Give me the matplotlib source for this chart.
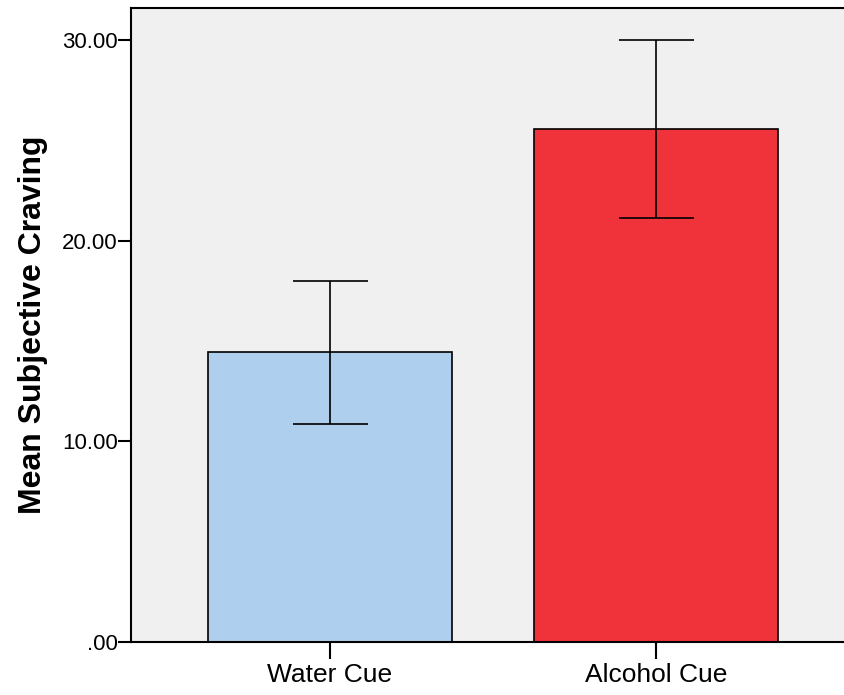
import matplotlib
matplotlib.use("Agg")
import matplotlib.pyplot as plt
import numpy as np

categories = ["Water Cue", "Alcohol Cue"]
means = [14.45, 25.56]
ci_low = [10.86, 21.13]
ci_high = [17.99, 30.0]
colors = ["#AED0EE", "#F0323A"]
yticks = [0, 10, 20, 30]
ytick_labels = [".00", "10.00", "20.00", "30.00"]

plt.rcParams['font.family'] = ['Liberation Sans', 'DejaVu Sans']

fig = plt.figure(figsize=(8.45, 6.95), dpi=100)
ax = fig.add_axes([0.1547, 0.0763, 0.8453, 0.9122])
ax.set_facecolor("#F0F0F0")

x = np.arange(len(categories))
ax.bar(x, means, width=0.75, color=colors, edgecolor="black", linewidth=1.2, zorder=2)
yerr = [np.array(means) - np.array(ci_low), np.array(ci_high) - np.array(means)]
ax.errorbar(x, means, yerr=yerr, fmt="none", ecolor="black", elinewidth=1.2,
            capsize=27, capthick=1.2, zorder=3)

ax.set_xlim(-0.612, 1.581)
ax.set_ylim(0, 31.59)
ax.set_xticks(x)
ax.set_xticklabels(categories, fontsize=19)
ax.set_yticks(yticks)
ax.set_yticklabels(ytick_labels, fontsize=16)
ax.tick_params(axis='x', length=12, width=1.5, pad=3)
ax.tick_params(axis='y', length=9.5, width=1.5, pad=0)
ax.set_ylabel("Mean Subjective Craving", fontsize=23, fontweight="bold", labelpad=10)

for s in ["left", "bottom", "top"]:
    ax.spines[s].set_linewidth(1.5)
ax.spines["right"].set_visible(False)

fig.savefig("out.png", dpi=100)
